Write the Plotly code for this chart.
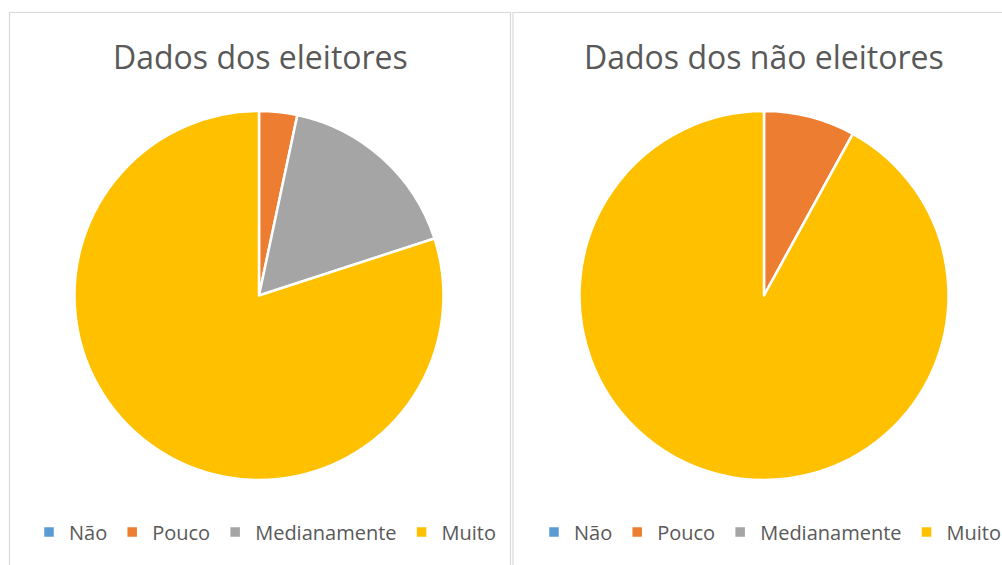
import plotly.graph_objects as go

labels = ["Não", "Pouco", "Medianamente", "Muito"]
eleitores = [0, 1, 5, 24]
nao_eleitores = [0, 2, 0, 23]
colors = ["#5B9BD5", "#ED7D31", "#A5A5A5", "#FFC000"]
titles = ["Dados dos eleitores", "Dados dos não eleitores"]

# second chart has its own legend; pie legends are keyed by label, so make the
# labels distinct with an invisible zero-width space
labels2 = [l + "\u200b" for l in labels]

W, H = 1002, 565
def px(x): return x / W
def py(y): return 1 - y / H

fig = go.Figure()
fig.add_trace(go.Pie(
    labels=labels, values=eleitores, sort=False, direction="clockwise", rotation=0,
    marker=dict(colors=colors, line=dict(color="white", width=2.5)),
    textinfo="none", hoverinfo="label+value+percent",
    domain=dict(x=[px(74.5), px(443.5)], y=[py(480), py(111)]),
    legend="legend", showlegend=True,
))
fig.add_trace(go.Pie(
    labels=labels2, values=nao_eleitores, sort=False, direction="clockwise", rotation=0,
    marker=dict(colors=colors, line=dict(color="white", width=2.5)),
    textinfo="none", hoverinfo="label+value+percent",
    domain=dict(x=[px(579.5), px(948.5)], y=[py(480), py(111)]),
    legend="legend2", showlegend=True,
))

font_fam = "Open Sans, Liberation Sans, sans-serif"
legend_common = dict(orientation="h", xanchor="center", yanchor="middle",
                     font=dict(family=font_fam, size=20, color="#595959"),
                     bgcolor="rgba(0,0,0,0)", itemwidth=30, traceorder="normal")
fig.update_layout(
    width=W, height=H,
    margin=dict(l=0, r=0, t=0, b=0, autoexpand=False),
    paper_bgcolor="white", plot_bgcolor="white",
    legend=dict(x=px(265), y=py(532), **legend_common),
    legend2=dict(x=px(770), y=py(532), **legend_common),
    shapes=[
        dict(type="rect", xref="paper", yref="paper", x0=px(9.5), x1=px(510.5), y0=py(575), y1=py(12.5),
             line=dict(color="#D9D9D9", width=1.2), fillcolor="rgba(0,0,0,0)"),
        dict(type="rect", xref="paper", yref="paper", x0=px(513), x1=px(1012), y0=py(575), y1=py(12.5),
             line=dict(color="#D9D9D9", width=1.2), fillcolor="rgba(0,0,0,0)"),
    ],
    annotations=[
        dict(text=titles[0], x=px(260), y=py(57), xref="paper", yref="paper", showarrow=False,
             xanchor="center", yanchor="middle", font=dict(family=font_fam, size=32, color="#595959")),
        dict(text=titles[1], x=px(764), y=py(57), xref="paper", yref="paper", showarrow=False,
             xanchor="center", yanchor="middle", font=dict(family=font_fam, size=32, color="#595959")),
    ],
)
fig.write_html("out.html", config={"displayModeBar": False})

# remove the default 8px page margin so the figure sits at the window origin
with open("out.html", encoding="utf-8") as f:
    html = f.read()
html = html.replace("<head>", "<head><style>html,body{margin:0;padding:0;overflow:hidden;}</style>", 1)
with open("out.html", "w", encoding="utf-8") as f:
    f.write(html)
